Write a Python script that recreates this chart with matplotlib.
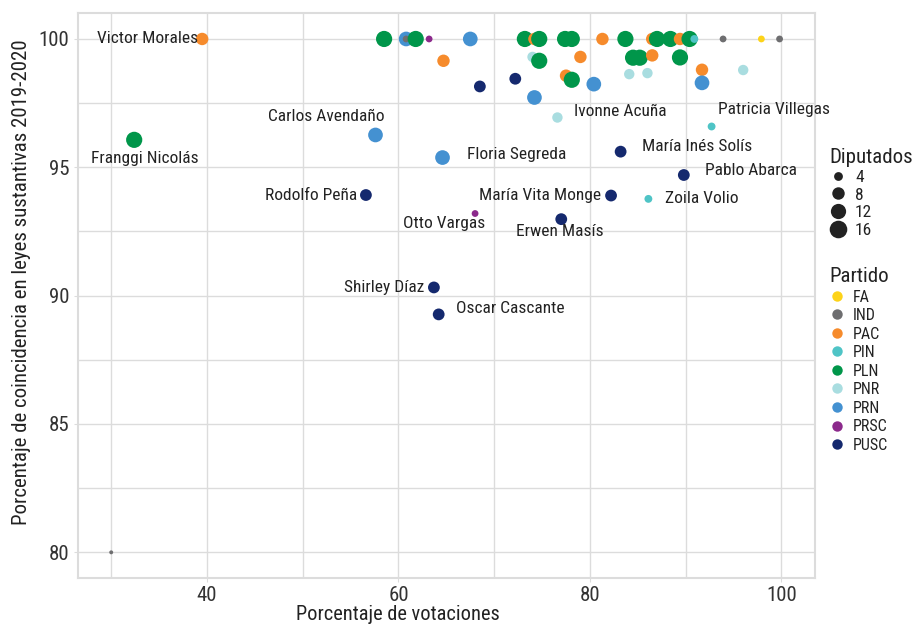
import matplotlib
matplotlib.use("Agg")
import matplotlib.pyplot as plt
from matplotlib.lines import Line2D
import numpy as np

plt.rcParams["font.family"] = ["Roboto Condensed", "DejaVu Sans"]

# datos: porcentaje de votaciones, coincidencia, partido, diputados
votaciones = [39.5, 58.5, 60.8, 60.8, 61.8, 63.2, 67.5, 73.2, 74.2, 74.7,
              77.4, 78.1, 81.3, 83.7, 86.5, 87.0, 88.4, 89.4, 90.4, 90.9,
              93.9, 97.9, 99.8,
              64.7, 74.0, 74.7, 79.0, 84.5, 85.2, 86.5, 89.4,
              68.5, 72.2, 74.2, 77.5, 78.1, 80.4, 84.1, 86.0, 91.7, 91.7, 96.0,
              76.6, 92.7, 57.6, 32.4, 56.6, 64.6, 83.2, 89.8, 82.2, 86.1,
              68.0, 77.0, 63.7, 64.2, 30.0]
coincidencia = [100, 100, 100, 100, 100, 100, 100, 100, 100, 100,
                100, 100, 100, 100, 100, 100, 100, 100, 100, 100,
                100, 100, 100,
                99.15, 99.3, 99.15, 99.3, 99.27, 99.27, 99.36, 99.28,
                98.15, 98.45, 97.72, 98.57, 98.41, 98.24, 98.63, 98.67, 98.8, 98.29, 98.79,
                96.94, 96.59, 96.26, 96.07, 93.92, 95.38, 95.61, 94.7, 93.9, 93.77,
                93.2, 92.98, 90.32, 89.27, 80.0]
partido = ["PAC", "PLN", "PRN", "IND", "PLN", "PRSC", "PRN", "PLN", "PAC", "PLN",
           "PLN", "PLN", "PAC", "PLN", "PAC", "PLN", "PLN", "PAC", "PLN", "PIN",
           "IND", "FA", "IND",
           "PAC", "PNR", "PLN", "PAC", "PLN", "PLN", "PAC", "PLN",
           "PUSC", "PUSC", "PRN", "PAC", "PLN", "PRN", "PNR", "PNR", "PAC", "PRN", "PNR",
           "PNR", "PIN", "PRN", "PLN", "PUSC", "PRN", "PUSC", "PUSC", "PUSC", "PIN",
           "PRSC", "PUSC", "PUSC", "PUSC", "IND"]
nombres = ["Victor Morales"] + [""] * 41 + [
    "Ivonne Acuña", "Patricia Villegas", "Carlos Avendaño", "Franggi Nicolás",
    "Rodolfo Peña", "Floria Segreda", "María Inés Solís", "Pablo Abarca",
    "María Vita Monge", "Zoila Volio", "Otto Vargas", "Erwen Masís",
    "Shirley Díaz", "Oscar Cascante", ""]

diputados_partido = {"FA": 3, "IND": 3, "PAC": 10, "PIN": 4, "PLN": 17,
                     "PNR": 7, "PRN": 14, "PRSC": 3, "PUSC": 9}
diputados = [diputados_partido[p] for p in partido]
diputados[-1] = 1

partidos = ["FA", "IND", "PAC", "PIN", "PLN", "PNR", "PRN", "PRSC", "PUSC"]
colores = {"FA": "#FDD319", "IND": "#6E6E70", "PAC": "#F68B2C", "PIN": "#4FC4C6",
           "PLN": "#00964A", "PNR": "#A9DDE0", "PRN": "#4491D1", "PRSC": "#8C2A8C",
           "PUSC": "#15296E"}
tamanos_leyenda = [4, 8, 12, 16]

# posicion de etiquetas (desplazamiento en px, alineacion)
etiquetas = {
    "Victor Morales": (-4, 0, "right"),
    "Franggi Nicolás": (11, -19, "center"),
    "Carlos Avendaño": (9, 18, "right"),
    "Rodolfo Peña": (-9, 0, "right"),
    "Floria Segreda": (24, 3, "left"),
    "Ivonne Acuña": (17, 6, "left"),
    "Patricia Villegas": (6, 17, "left"),
    "María Inés Solís": (21, 5, "left"),
    "Pablo Abarca": (21, 5, "left"),
    "María Vita Monge": (-10, 0, "right"),
    "Zoila Volio": (17, 0, "left"),
    "Otto Vargas": (10, -10, "right"),
    "Erwen Masís": (-1, -12, "center"),
    "Shirley Díaz": (-10, 0, "right"),
    "Oscar Cascante": (17, 6, "left"),
}

gris = "#dcdcdc"
texto = "#222222"
px = 0.72  # puntos por pixel a 100 dpi

fig = plt.figure(figsize=(9.19, 6.26), dpi=100)
ax = fig.add_axes([77.7 / 919, 48 / 626, (815 - 77.7) / 919, (578 - 13.3) / 626])

ax.scatter(votaciones, coincidencia, s=[8 * d for d in diputados],
           c=[colores[p] for p in partido], linewidths=0, zorder=3)

for x, y, n in zip(votaciones, coincidencia, nombres):
    if n:
        dx, dy, ha = etiquetas[n]
        ax.annotate(n, (x, y), xytext=(dx * px, dy * px), textcoords="offset points",
                    ha=ha, va="center", fontsize=12.5, color=texto, zorder=4)

ax.set_xlim(26.5, 103.5)
ax.set_ylim(79, 101)
ax.set_xticks([40, 60, 80, 100])
ax.set_xticks([30, 50, 70, 90], minor=True)
ax.set_yticks([80, 85, 90, 95, 100])
ax.set_yticks([82.5, 87.5, 92.5, 97.5], minor=True)
ax.grid(True, which="both", color=gris, linewidth=1.0, zorder=0)
ax.set_axisbelow(True)
for s in ax.spines.values():
    s.set_color(gris)
    s.set_linewidth(1.5)
ax.tick_params(which="both", length=3, color=gris, labelsize=15, labelcolor="#333333", pad=3)
ax.tick_params(which="minor", length=0)

fig.text(398 / 919, (626 - 605) / 626, "Porcentaje de votaciones", ha="center", va="top",
         fontsize=14.7, color=texto)
fig.text(22 / 919, (626 - 282) / 626, "Porcentaje de coincidencia en leyes sustantivas 2019-2020",
         ha="center", va="center", rotation=90, fontsize=15, color=texto)

h_tam = [Line2D([], [], marker="o", linestyle="", color="#222222",
                markersize=np.sqrt(8 * t) * 1.12, markeredgewidth=0) for t in tamanos_leyenda]
leg1 = ax.legend(h_tam, [str(t) for t in tamanos_leyenda], title="Diputados",
                 loc="upper left", bbox_to_anchor=(829 / 919, (626 - 148) / 626),
                 bbox_transform=fig.transFigure, frameon=False, fontsize=12.5,
                 title_fontsize=15, labelspacing=0.15, handletextpad=0.5,
                 handlelength=1.0, borderaxespad=0, borderpad=0)
leg1._legend_box.align = "left"
for t in leg1.get_texts():
    t.set_color(texto)
leg1.get_title().set_color(texto)
ax.add_artist(leg1)

h_par = [Line2D([], [], marker="o", linestyle="", color=colores[p],
                markersize=7.5, markeredgewidth=0) for p in partidos]
leg2 = ax.legend(h_par, partidos, title="Partido",
                 loc="upper left", bbox_to_anchor=(829 / 919, (626 - 267) / 626),
                 bbox_transform=fig.transFigure, frameon=False, fontsize=11.5,
                 title_fontsize=15, labelspacing=0.22, handletextpad=0.5,
                 handlelength=1.0, borderaxespad=0, borderpad=0)
leg2._legend_box.align = "left"
for t in leg2.get_texts():
    t.set_color(texto)
leg2.get_title().set_color(texto)

fig.savefig("out.png", dpi=100)
